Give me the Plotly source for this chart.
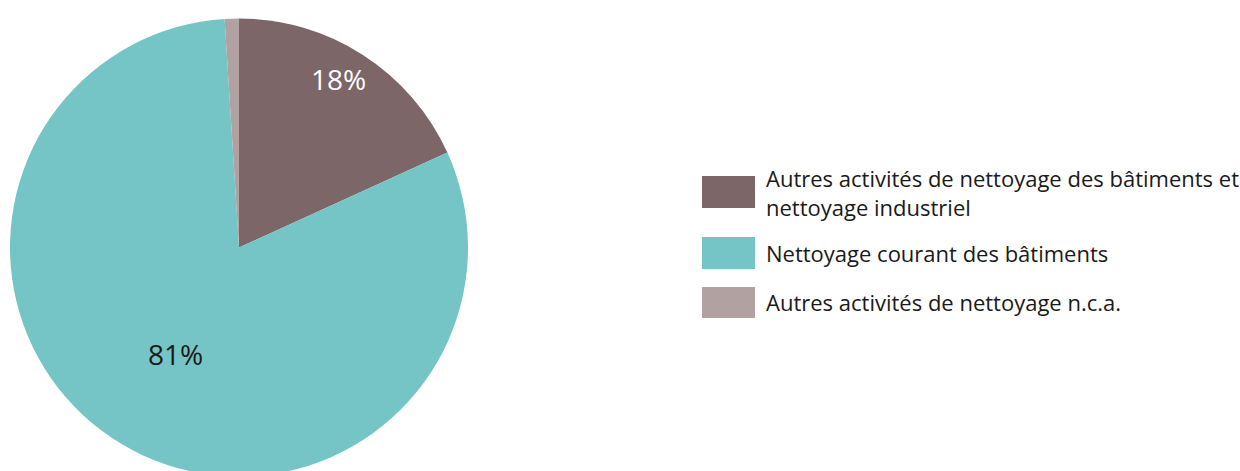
import math
import plotly.graph_objects as go

labels = [
    "Autres activités de nettoyage des bâtiments et<br>nettoyage industriel",
    "Nettoyage courant des bâtiments",
    "Autres activités de nettoyage n.c.a.",
]
values = [18.2, 80.8, 1.0]
pct_labels = ["18%", "81%", ""]
colors = ["#7d6667", "#75c5c6", "#b1a1a1"]
text_colors = ["#ffffff", "#1a1a1a", "#1a1a1a"]

W, H = 1240, 480
FONT = "Open Sans, Noto Sans, sans-serif"

# pie geometry in page pixels
CX, CY, R = 239, 247.5, 229

def px(x):
    return x / W

def py(y):
    return 1 - y / H

fig = go.Figure()
fig.add_trace(go.Pie(
    labels=labels,
    values=values,
    sort=False,
    direction="clockwise",
    rotation=0,
    marker=dict(colors=colors, line=dict(width=0)),
    textinfo="none",
    domain=dict(x=[px(CX - R), px(CX + R)], y=[py(CY + R), py(CY - R)]),
    showlegend=False,
    hoverinfo="label+percent",
))

# percentage labels at slice mid-angles
radial = [0.875, 0.54, 0.8]
x_shift = [-9, 0, 0]
total = sum(values)
cum = 0.0
for i, v in enumerate(values):
    mid = (cum + v / 2) / total * 2 * math.pi
    cum += v
    if not pct_labels[i]:
        continue
    x = CX + radial[i] * R * math.sin(mid) + x_shift[i]
    y = CY - radial[i] * R * math.cos(mid)
    fig.add_annotation(xref="paper", yref="paper", x=px(x), y=py(y),
                       xanchor="center", yanchor="middle", showarrow=False,
                       text=pct_labels[i],
                       font=dict(family=FONT, size=28, color=text_colors[i]))

# Manual legend (large swatches)
sw_top = [176, 237, 287]
sw_h = [32, 32, 31]
text_y = [192, 253, 302]
for i, lab in enumerate(labels):
    fig.add_shape(type="rect", xref="paper", yref="paper",
                  x0=px(702), x1=px(755),
                  y0=py(sw_top[i] + sw_h[i]), y1=py(sw_top[i]),
                  fillcolor=colors[i], line=dict(width=0))
    fig.add_annotation(xref="paper", yref="paper", x=px(764), y=py(text_y[i]),
                       xanchor="left", yanchor="middle", align="left",
                       text=lab, showarrow=False,
                       font=dict(family=FONT, size=22, color="#1a1a1a"))

fig.update_layout(
    width=W, height=H,
    margin=dict(l=0, r=0, t=0, b=0),
    paper_bgcolor="white",
    plot_bgcolor="white",
)

fig.write_html(
    "out.html",
    config={"displayModeBar": False},
    post_script="document.body.style.margin='0';document.body.style.overflow='hidden';",
)
